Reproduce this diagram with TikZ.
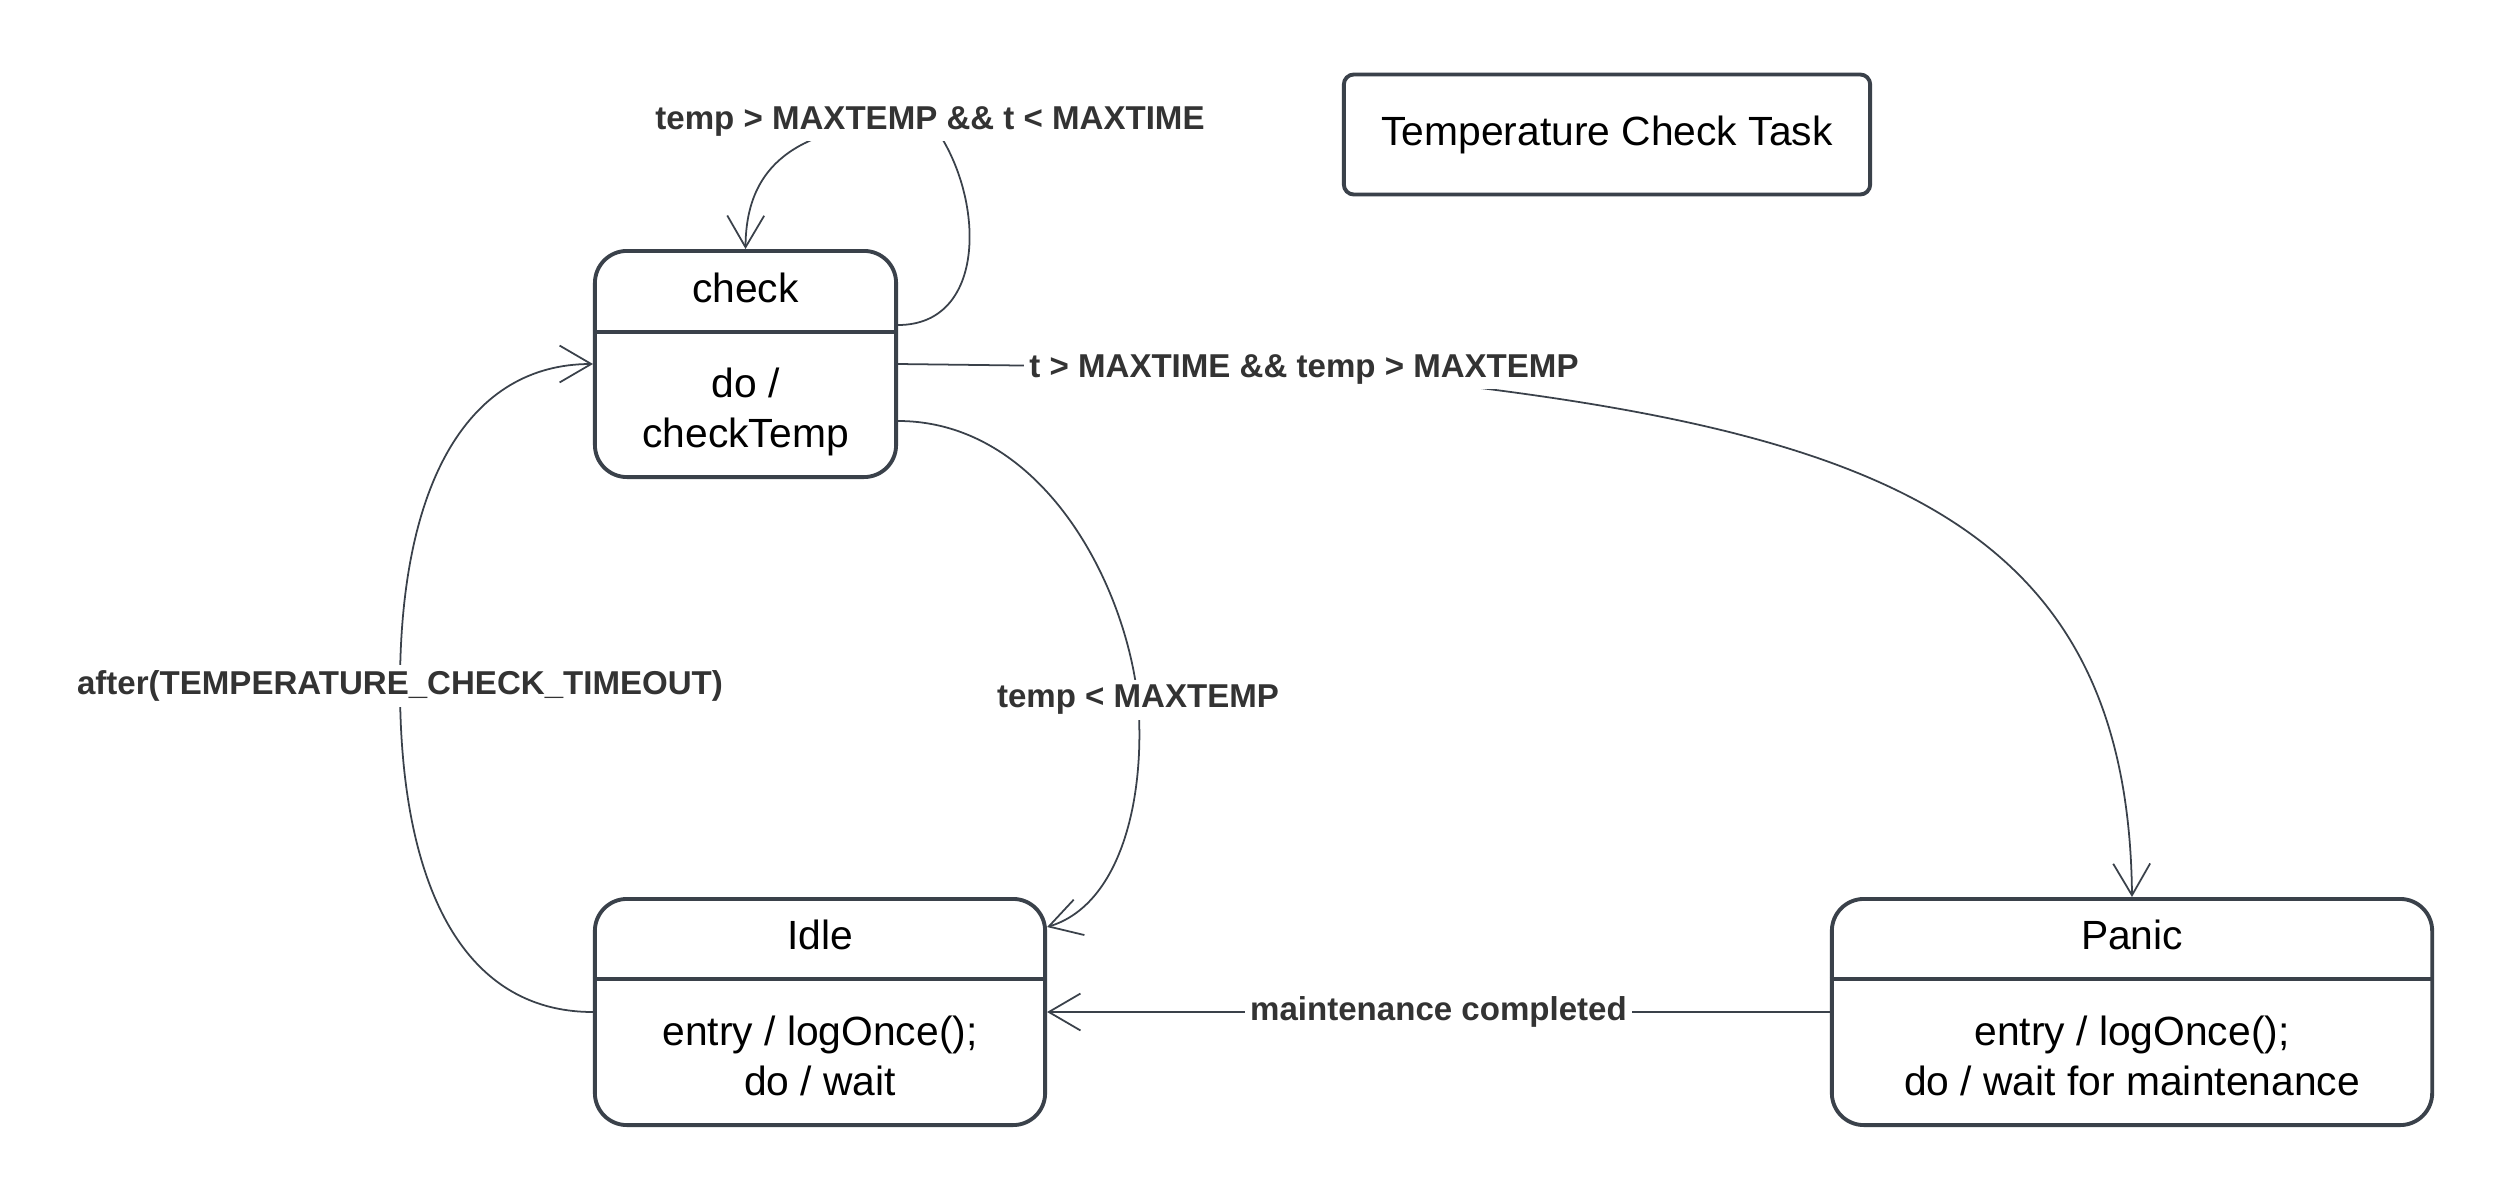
\documentclass[tikz,border=0pt]{standalone}
\usepackage{fontspec}
\setmainfont{Liberation Sans}
\usetikzlibrary{arrows.meta,calc}
\definecolor{ln}{HTML}{3A414A}
\definecolor{lt}{HTML}{333333}
\pgfdeclarelayer{bg}
\pgfsetlayers{bg,main}
\begin{document}
\begin{tikzpicture}[x=0.01cm,y=-0.01cm,
  statebox/.style={draw=ln, line width=1.1pt, rounded corners=0.32cm, minimum height=2.26cm, inner sep=0pt},
  titlebox/.style={draw=ln, line width=1.1pt, rounded corners=0.1cm, minimum width=5.26cm, minimum height=1.2cm, inner sep=0pt, font=\fontsize{11.6}{14.2}\selectfont},
  body/.style={align=center, inner sep=0pt, font=\fontsize{11.6}{14.2}\selectfont},
  divider/.style={draw=ln, line width=1.1pt},
  lbl/.style={fill=white, text=lt, inner sep=1.5pt, font=\bfseries\fontsize{9.4}{11}\selectfont},
  conn/.style={draw=ln, line width=0.5pt, -{Straight Barb[length=9pt,width=10.5pt]}}]
\begin{pgfonlayer}{bg}
\fill[white] (0,0) rectangle (2509,1200);
\end{pgfonlayer}
\useasboundingbox (0,0) rectangle (2509,1200);

% title
\node[titlebox] (title) at (1607,134.5) {Temperature Check Task};

% states
\node[statebox, minimum width=3.01cm] (check) at (745.5,364) {};
\node[statebox, minimum width=4.5cm] (idle) at (820,1012) {};
\node[statebox, minimum width=6cm] (panic) at (2132,1012) {};

\draw[divider] ($(check.north west)+(0,83)$) -- ($(check.north east)+(0,83)$);
\draw[divider] ($(idle.north west)+(0,82)$) -- ($(idle.north east)+(0,82)$);
\draw[divider] ($(panic.north west)+(0,82)$) -- ($(panic.north east)+(0,82)$);

\node[body] (checkname) at (745.5,287.5) {check};
\node[body] (checkbody) at (745.5,412) {do /\\checkTemp};
\node[body] (idlename) at (820,935) {Idle};
\node[body] (idlebody) at (820,1056) {entry / logOnce();\\do / wait};
\node[body] (panicname) at (2132,935) {Panic};
\node[body] (panicbody) at (2132,1056) {entry / logOnce();\\do / wait for maintenance};

% labels
\node[lbl] (l1) at (930,121) {temp > MAXTEMP \&\& t < MAXTIME};
\node[lbl] (l2) at (1304,369) {t > MAXTIME \&\& temp > MAXTEMP};
\node[lbl] (l3) at (1138,700) {temp < MAXTEMP};
\node[lbl] (l4) at (400,686) {after(TEMPERATURE\_CHECK\_TIMEOUT)};
\node[lbl] (l5) at ($(idle.east)!0.5!(panic.west)$) {maintenance completed};

% connectors
\begin{pgfonlayer}{bg}
\draw[conn] ($(check.east)+(0,-39)$) .. controls (990,325) and (985,190) .. (l1.center)
   .. controls (790,121) and (746,170) .. (check.north);
\draw[conn] (check.east) -- (l2.center) .. controls (1850,420) and (2128,500) .. (panic.north);
\draw[conn] ($(check.east)+(0,57)$) .. controls (1040,421) and (1125,580) .. (l3.center)
   .. controls (1146,800) and (1120,905) .. ($(idle.north east)+(0,30)$);
\draw[conn] (idle.west) .. controls (460,1012) and (400,880) .. (l4.center)
   .. controls (400,480) and (470,364) .. (check.west);
\draw[conn] (panic.west) -- (l5.center) -- (idle.east);
\end{pgfonlayer}
\end{tikzpicture}
\end{document}
